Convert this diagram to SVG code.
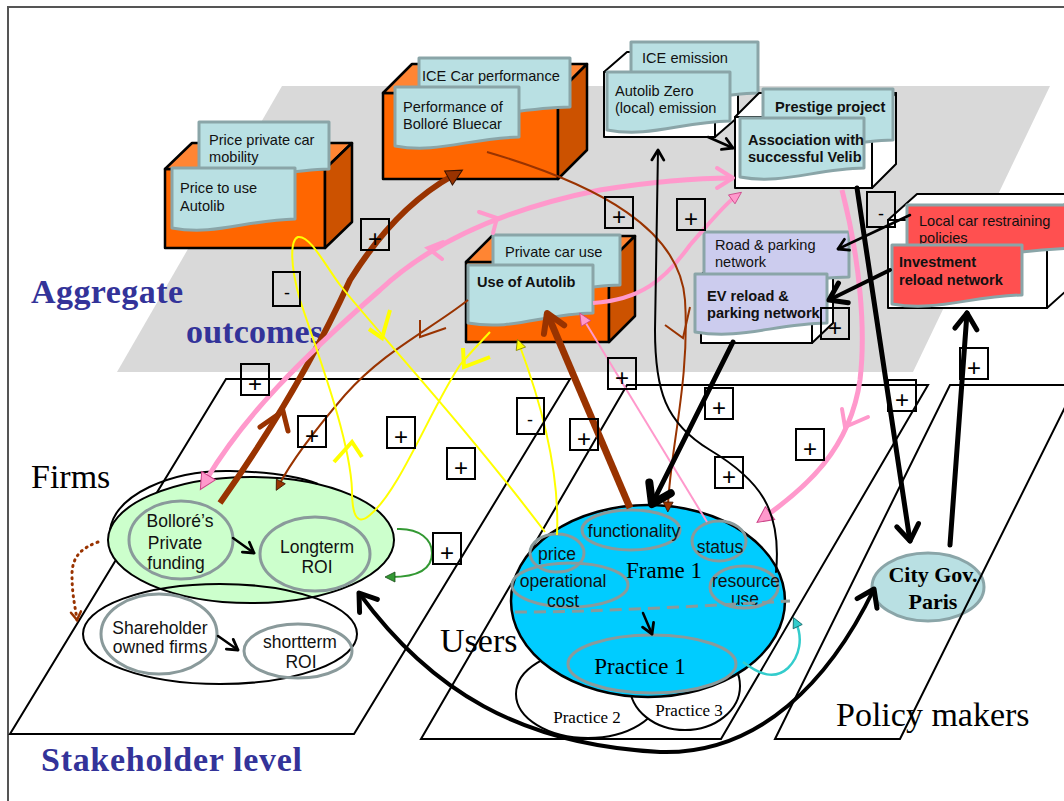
<svg xmlns="http://www.w3.org/2000/svg" width="1064" height="801" viewBox="0 0 1064 801">
<style>
.note{stroke:#8aa5a8;stroke-width:3;fill:#b9e0e3;stroke-linejoin:round}
.lav{fill:#ccccee}
.red{fill:#ff5050}
.t{font-family:"Liberation Sans",Arial,sans-serif;font-size:14.6px;fill:#111}
.b{font-weight:bold}
.e{font-family:"Liberation Sans",Arial,sans-serif;font-size:17.5px;fill:#111;text-anchor:middle}
.ser{font-family:"Liberation Serif","Times New Roman",serif;fill:#000}
.big{font-family:"Liberation Serif","Times New Roman",serif;font-weight:bold;fill:#333399;font-size:34px}
.pl{fill:none;stroke:#000;stroke-width:2}
.of{fill:#ff6600;stroke:#000;stroke-width:2.5;stroke-linejoin:round}
.ot{fill:#ff8533;stroke:#000;stroke-width:2.5;stroke-linejoin:round}
.os{fill:#cc5200;stroke:#000;stroke-width:2.5;stroke-linejoin:round}
.wb{fill:#fff;stroke:#000;stroke-width:2;stroke-linejoin:round}
.ie{fill:none;stroke:#8a9a9b;stroke-width:3}
.pm rect{fill:none;stroke:#000;stroke-width:2}
.pm text{font-family:"Liberation Sans",Arial,sans-serif;font-size:24px;text-anchor:middle;fill:#000}
.pm text.m{font-size:18px}
.cn path{fill:none}
.k{stroke:#000;stroke-linecap:round}
.br{stroke:#993300}
.pk{stroke:#ff99cc}
.ye{stroke:#ffff00}
</style>
<defs>
<marker id="chK" markerUnits="userSpaceOnUse" markerWidth="26" markerHeight="30" refX="19" refY="14" orient="auto" overflow="visible"><path d="M3,3 L19,14 L3,25" fill="none" stroke="#000" stroke-width="5" stroke-linecap="round" stroke-linejoin="round"/></marker>
<marker id="chKr" markerUnits="userSpaceOnUse" markerWidth="26" markerHeight="30" refX="19" refY="14" orient="auto-start-reverse" overflow="visible"><path d="M3,3 L19,14 L3,25" fill="none" stroke="#000" stroke-width="5" stroke-linecap="round" stroke-linejoin="round"/></marker>
<marker id="chKh" markerUnits="userSpaceOnUse" markerWidth="28" markerHeight="32" refX="21" refY="15" orient="auto" overflow="visible"><path d="M3,3 L21,15 L3,27" fill="none" stroke="#000" stroke-width="8" stroke-linecap="round" stroke-linejoin="round"/></marker>
<marker id="chKs" markerUnits="userSpaceOnUse" markerWidth="16" markerHeight="16" refX="12" refY="8" orient="auto" overflow="visible"><path d="M2,2 L12,8 L2,14" fill="none" stroke="#000" stroke-width="2.8" stroke-linecap="round" stroke-linejoin="round"/></marker>
<marker id="chBr" markerUnits="userSpaceOnUse" markerWidth="26" markerHeight="30" refX="21" refY="14" orient="auto" overflow="visible"><path d="M3,3 L21,14 L3,25" fill="none" stroke="#993300" stroke-width="6" stroke-linecap="round" stroke-linejoin="round"/></marker>
<marker id="chP" markerUnits="userSpaceOnUse" markerWidth="24" markerHeight="28" refX="19" refY="13" orient="auto" overflow="visible"><path d="M3,3 L19,13 L3,23" fill="none" stroke="#ff99cc" stroke-width="4" stroke-linecap="round" stroke-linejoin="round"/></marker>
<marker id="triBr" markerUnits="userSpaceOnUse" markerWidth="22" markerHeight="22" refX="6" refY="10" orient="auto" overflow="visible"><path d="M2,2 L18,10 L2,18 Z" fill="#993300" stroke="#3a1400" stroke-width="1"/></marker>
<marker id="triBrS" markerUnits="userSpaceOnUse" markerWidth="14" markerHeight="14" refX="5" refY="6" orient="auto" overflow="visible"><path d="M1,1 L11,6 L1,11 Z" fill="#993300" stroke="#3a1400" stroke-width="0.8"/></marker>
<marker id="triP" markerUnits="userSpaceOnUse" markerWidth="20" markerHeight="20" refX="6" refY="9" orient="auto-start-reverse" overflow="visible"><path d="M1,1 L17,9 L1,17 Z" fill="#ff99cc" stroke="#cc4488" stroke-width="1"/></marker>
<marker id="triPs" markerUnits="userSpaceOnUse" markerWidth="16" markerHeight="16" refX="5" refY="6.5" orient="auto" overflow="visible"><path d="M1,1 L13,6.5 L1,12 Z" fill="#ff99cc" stroke="#cc4488" stroke-width="0.8"/></marker>
<marker id="triY" markerUnits="userSpaceOnUse" markerWidth="14" markerHeight="14" refX="5" refY="6" orient="auto" overflow="visible"><path d="M1,1 L11,6 L1,11 Z" fill="#ffff00" stroke="#888800" stroke-width="0.8"/></marker>
<marker id="triT" markerUnits="userSpaceOnUse" markerWidth="14" markerHeight="14" refX="5" refY="6" orient="auto" overflow="visible"><path d="M1,1 L11,6 L1,11 Z" fill="#33cccc" stroke="#116666" stroke-width="0.8"/></marker>
<marker id="triG" markerUnits="userSpaceOnUse" markerWidth="14" markerHeight="14" refX="5" refY="6" orient="auto" overflow="visible"><path d="M1,1 L11,6 L1,11 Z" fill="#339933" stroke="#1a4d1a" stroke-width="0.8"/></marker>
<marker id="chBrD" markerUnits="userSpaceOnUse" markerWidth="12" markerHeight="14" refX="9" refY="6" orient="auto" overflow="visible"><path d="M1,1 L9,6 L1,11" fill="none" stroke="#993300" stroke-width="2.5" stroke-linecap="round"/></marker>
</defs>

<rect width="1064" height="801" fill="#fff"/>
<path d="M8,801 V7 H1064" fill="none" stroke="#555" stroke-width="2"/>

<g id="planes">
<polygon points="282,86 1050,86 913,372 117,372" fill="#d9d9d9"/>
<polygon class="pl" points="226,379 570,379 354,734 10,734"/>
<polygon class="pl" points="627,385 928,385 721,739 421,739"/>
</g>

<g id="labels">
<text class="big" x="31" y="303" textLength="152">Aggregate</text>
<text class="big" x="186" y="343" textLength="137">outcomes</text>
<text class="big" x="41" y="771" textLength="261">Stakeholder level</text>
<text class="ser" x="31" y="488" font-size="34">Firms</text>
<text class="ser" x="440" y="652" font-size="34">Users</text>
<text class="ser" x="836" y="726" font-size="34">Policy makers</text>
</g>

<g id="node-price">
<rect class="of" x="165" y="169" width="160" height="79"/>
<polygon class="ot" points="165,169 192,143 352,143 325,169"/>
<polygon class="os" points="325,169 352,143 352,222 325,248"/>
<path class="note" d="M199,122 H329 V169 C277,170 244,186 199,178 Z"/>
<text class="t" x="209" y="145">Price private car</text>
<text class="t" x="209" y="162">mobility</text>
<path class="note" d="M172,168 H295 V219 C246,220 215,236 172,228 Z"/>
<text class="t" x="180" y="193">Price to use</text>
<text class="t" x="180" y="211">Autolib</text>
</g>

<g id="node-performance">
<rect class="of" x="383" y="93" width="175" height="86"/>
<polygon class="ot" points="383,93 412,64 587,64 558,93"/>
<polygon class="os" points="558,93 587,64 587,150 558,179"/>
<path class="note" d="M419,58 H570 V107 C510,108 472,124 419,116 Z"/>
<text class="t" x="422" y="81">ICE Car performance</text>
<path class="note" d="M395,87 H519 V137 C469,138 438,154 395,146 Z"/>
<text class="t" x="403" y="112">Performance of</text>
<text class="t" x="403" y="129">Bolloré Bluecar</text>
</g>

<g id="node-emission">
<rect class="wb" x="604" y="72" width="111" height="65"/>
<polygon class="wb" points="604,72 627,52 738,52 715,72"/>
<polygon class="wb" points="715,72 738,52 738,117 715,137"/>
<path class="note" d="M631,42 H758 V93 C707,94 676,110 631,102 Z"/>
<text class="t" x="642" y="63">ICE emission</text>
<path class="note" d="M607,72 H730 V121 C681,122 650,138 607,130 Z"/>
<text class="t" x="615" y="96">Autolib Zero</text>
<text class="t" x="615" y="113">(local) emission</text>
</g>

<g id="node-prestige">
<rect class="wb" x="735" y="117" width="137" height="71"/>
<polygon class="wb" points="735,117 759,93 896,93 872,117"/>
<polygon class="wb" points="872,117 896,93 896,164 872,188"/>
<path class="note" d="M763,89 H893 V140 C841,141 808,157 763,149 Z"/>
<text class="t b" x="775" y="112">Prestige project</text>
<path class="note" d="M740,118 H864 V168 C814,169 783,185 740,177 Z"/>
<text class="t b" x="748" y="145">Association with</text>
<text class="t b" x="748" y="162">successful Velib</text>
</g>

<g id="node-use">
<rect class="of" x="466" y="262" width="143" height="80"/>
<polygon class="ot" points="466,262 492,236 635,236 609,262"/>
<polygon class="os" points="609,262 635,236 635,316 609,342"/>
<path class="note" d="M493,235 H620 V285 C569,286 537,302 493,294 Z"/>
<text class="t" x="505" y="257">Private car use</text>
<path class="note" d="M468,265 H593 V313 C543,314 512,331 468,323 Z"/>
<text class="t b" x="477" y="287">Use of Autolib</text>
</g>

<g id="node-network">
<rect class="wb" x="701" y="275" width="111" height="68"/>
<polygon class="wb" points="701,275 722,255 833,255 812,275"/>
<polygon class="wb" points="812,275 833,255 833,323 812,343"/>
<path class="note lav" d="M704,232 H849 V277 C791,278 755,294 704,286 Z"/>
<text class="t" x="715" y="250">Road &amp; parking</text>
<text class="t" x="715" y="267">network</text>
<path class="note lav" d="M695,274 H827 V323 C774,324 741,340 695,332 Z"/>
<text class="t b" x="707" y="301">EV reload &amp;</text>
<text class="t b" x="707" y="318">parking network</text>
</g>

<g id="node-policies">
<rect class="wb" x="888" y="220" width="159" height="88"/>
<polygon class="wb" points="888,220 917,194 1076,194 1047,220"/>
<polygon class="wb" points="1047,220 1076,194 1076,282 1047,308"/>
<path class="note red" d="M907,205 H1077 V248 C1009,249 966,265 907,257 Z"/>
<text class="t" x="919" y="226">Local car restraining</text>
<text class="t" x="919" y="243">policies</text>
<path class="note red" d="M892,245 H1022 V295 C970,296 937,312 892,304 Z"/>
<text class="t b" x="899" y="267">Investment</text>
<text class="t b" x="899" y="285">reload network</text>
</g>

<g id="node-firms">
<ellipse cx="251" cy="540" rx="143" ry="63" fill="#ccffcc" stroke="#000" stroke-width="2"/>
<path d="M110,530 C115,495 170,470 230,471 C270,472 300,477 318,484" fill="none" stroke="#000" stroke-width="2"/>
<ellipse class="ie" cx="181" cy="540" rx="52" ry="39"/>
<text class="e" x="180" y="527">Bolloré’s</text>
<text class="e" x="175" y="549">Private</text>
<text class="e" x="176" y="569">funding</text>
<ellipse class="ie" cx="315" cy="554" rx="55" ry="37"/>
<text class="e" x="317" y="553">Longterm</text>
<text class="e" x="317" y="573">ROI</text>
<ellipse cx="220" cy="634" rx="137" ry="50" fill="none" stroke="#000" stroke-width="2"/>
<ellipse class="ie" cx="159" cy="634" rx="58" ry="40"/>
<text class="e" x="160" y="634">Shareholder</text>
<text class="e" x="160" y="653">owned firms</text>
<ellipse class="ie" cx="298" cy="651" rx="54" ry="27"/>
<text class="e" x="300" y="648">shortterm</text>
<text class="e" x="301" y="668">ROI</text>
</g>

<g id="node-users">
<ellipse cx="588" cy="694" rx="72" ry="44" fill="#fff" stroke="#000" stroke-width="2"/>
<ellipse cx="685" cy="686" rx="55" ry="44" fill="#fff" stroke="#000" stroke-width="2"/>
<text class="ser" x="587" y="723" font-size="17" text-anchor="middle">Practice 2</text>
<text class="ser" x="689" y="716" font-size="17" text-anchor="middle">Practice 3</text>
<ellipse cx="648" cy="601" rx="137" ry="96" fill="#00ccff" stroke="#000" stroke-width="2.5"/>
<ellipse class="ie" cx="631" cy="530" rx="49" ry="20"/>
<text class="e" x="634" y="537" font-size="17">functionality</text>
<ellipse class="ie" cx="719" cy="541" rx="27" ry="20"/>
<text class="e" x="720" y="553" font-size="17">status</text>
<ellipse class="ie" cx="557" cy="553" rx="27" ry="19"/>
<text class="e" x="557" y="560" font-size="17">price</text>
<ellipse class="ie" cx="570" cy="585" rx="58" ry="22"/>
<text class="e" x="563" y="587" font-size="17">operational</text>
<text class="e" x="563" y="607" font-size="17">cost</text>
<ellipse class="ie" cx="744" cy="587" rx="34" ry="21"/>
<text class="e" x="746" y="587" font-size="14">resource</text>
<text class="e" x="745" y="605" font-size="14">use</text>
<text class="ser" x="664" y="578" font-size="23" text-anchor="middle">Frame 1</text>
<path d="M515,612 C600,612 700,606 790,601" fill="none" stroke="#8a9a9b" stroke-width="3" stroke-dasharray="12,7"/>
<ellipse class="ie" cx="652" cy="664" rx="84" ry="29"/>
<text class="ser" x="640" y="674" font-size="23" text-anchor="middle">Practice 1</text>
</g>

<g id="node-citygov">
<ellipse cx="928" cy="587" rx="56" ry="34" fill="#b9e0e3" stroke="#8aa5a8" stroke-width="3"/>
<text class="ser" x="933" y="582" font-size="22" font-weight="bold" text-anchor="middle">City Gov.</text>
<text class="ser" x="933" y="609" font-size="22" font-weight="bold" text-anchor="middle">Paris</text>
</g>

<g id="plane-policy">
<polygon class="pl" points="950,385 1076,385 900,739 775,739"/>
</g>

<g id="connectors" class="cn">
<path class="br" stroke-width="6" d="M220,503 Q300,390 350,280 Q395,208 452,176" marker-end="url(#triBr)"/>
<path class="br" stroke-width="5" stroke-linecap="round" d="M260,427 L283,411 L288,431"/>
<path class="br" stroke-width="7" d="M630,508 L547,313" marker-end="url(#chBr)"/>
<path class="pk" stroke-width="5" d="M206,480 C245,415 300,360 380,290 C428,245 500,210 600,190 C650,182 700,178 733,178" marker-start="url(#triP)" marker-end="url(#chP)"/>
<path class="pk" stroke-width="4" stroke-linecap="round" d="M479,212 L497,218 L493,233"/>
<path class="pk" stroke-width="4" stroke-linecap="round" d="M443,242 L428,248 L442,259"/>
<path class="pk" stroke-width="4" d="M593,303 C640,300 665,280 690,245 C712,220 724,205 735,197" marker-end="url(#triPs)"/>
<path class="pk" stroke-width="5" d="M842,190 C860,260 866,330 860,380 C850,450 805,488 766,516" marker-end="url(#triP)"/>
<path class="pk" stroke-width="4" stroke-linecap="round" d="M842,409 L845,427 L868,417"/>
<path class="pk" stroke-width="2" d="M707,522 L584,320" marker-end="url(#triPs)"/>
<path class="br" stroke-width="2" d="M487,152 C600,185 680,230 685,300 C690,380 670,450 668,506" marker-end="url(#triBrS)"/>
<path class="br" stroke-width="2" d="M665,325 L683,338 L690,307"/>
<path class="br" stroke-width="2" d="M468,300 C430,330 385,350 345,395 C315,430 292,460 279,485" marker-end="url(#triBrS)"/>
<path class="br" stroke-width="2" d="M420,320 L420,337 L446,328"/>
<path class="ye" stroke-width="2" d="M490,332 C478,345 468,355 460,365 C430,410 400,490 370,515 C355,528 352,510 352,490 C350,440 320,360 300,300 C290,265 290,240 298,237 C310,235 325,265 340,285 C380,335 460,420 545,532"/>
<path class="ye" stroke-width="4" d="M369,329 L382,338 L390,310"/>
<path class="ye" stroke-width="4" d="M463,348 L464,367 L490,357"/>
<path class="ye" stroke-width="4" d="M334,462 L352,442 L362,457"/>
<path class="ye" stroke-width="2" d="M557,535 C560,470 540,400 519.5,345" marker-end="url(#triY)"/>
<path class="k" stroke-width="5" d="M733,342 L652,504" marker-end="url(#chKh)"/>
<path class="k" stroke-width="5" d="M857,188 L910,541" marker-end="url(#chK)"/>
<path class="k" stroke-width="5" d="M950,545 L967,313" marker-end="url(#chK)"/>
<path class="k" stroke-width="4" d="M890,270 L829,300" marker-end="url(#chK)"/>
<path class="k" stroke-width="2.5" d="M910,215 L838,249" marker-end="url(#chKs)"/>
<path class="k" stroke-width="2.5" d="M708,137 L733,148" marker-end="url(#chKs)"/>
<path class="k" stroke-width="2" d="M776,572 C782,510 760,480 710,450 C665,423 655,390 655,330 L658,150" marker-end="url(#chKs)"/>
<path class="k" stroke-width="4" d="M359,593 C430,690 520,745 660,752 C760,755 830,680 874,589" marker-start="url(#chKr)" marker-end="url(#chK)"/>
<path class="k" stroke-width="2.5" d="M233,538 L254,553" marker-end="url(#chKs)"/>
<path class="k" stroke-width="2.5" d="M218,636 L238,650" marker-end="url(#chKs)"/>
<path class="k" stroke-width="2.5" d="M643,613 L652,634" marker-end="url(#chKs)"/>
<path stroke="#339933" stroke-width="2" d="M397,529 C420,528 432,540 432,553 C432,568 420,577 391,577" marker-end="url(#triG)"/>
<path stroke="#33cccc" stroke-width="2.5" d="M743,662 C760,675 775,680 788,668 C800,656 803,638 796,623" marker-end="url(#triT)"/>
<path stroke="#993300" stroke-width="3" stroke-dasharray="1,5" stroke-linecap="round" d="M98,542 C82,548 72,556 72,575 C72,595 75,605 77,620" marker-end="url(#chBrD)"/>
</g>

<g id="signs" class="pm">
<rect x="361" y="219" width="28" height="31"/><text x="375" y="247">+</text>
<rect x="273" y="272" width="27" height="34"/><text class="m" x="287" y="299">-</text>
<rect x="241" y="364" width="28" height="31"/><text x="255" y="392">+</text>
<rect x="298" y="416" width="28" height="31"/><text x="312" y="444">+</text>
<rect x="387" y="417" width="28" height="31"/><text x="401" y="445">+</text>
<rect x="447" y="448" width="28" height="31"/><text x="461" y="476">+</text>
<rect x="517" y="398" width="27" height="36"/><text class="m" x="530" y="426">-</text>
<rect x="570" y="419" width="28" height="31"/><text x="584" y="447">+</text>
<rect x="608" y="358" width="28" height="31"/><text x="622" y="386">+</text>
<rect x="433" y="533" width="28" height="31"/><text x="447" y="561">+</text>
<rect x="605" y="197" width="28" height="31"/><text x="619" y="225">+</text>
<rect x="677" y="199" width="28" height="31"/><text x="691" y="227">+</text>
<rect x="867" y="192" width="28" height="35"/><text class="m" x="881" y="220">-</text>
<rect x="821" y="308" width="28" height="31"/><text x="835" y="336">+</text>
<rect x="960" y="348" width="28" height="31"/><text x="974" y="376">+</text>
<rect x="888" y="380" width="28" height="31"/><text x="902" y="408">+</text>
<rect x="705" y="388" width="28" height="31"/><text x="719" y="416">+</text>
<rect x="796" y="429" width="28" height="31"/><text x="810" y="457">+</text>
<rect x="715" y="457" width="28" height="31"/><text x="729" y="485">+</text>
</g>
</svg>
